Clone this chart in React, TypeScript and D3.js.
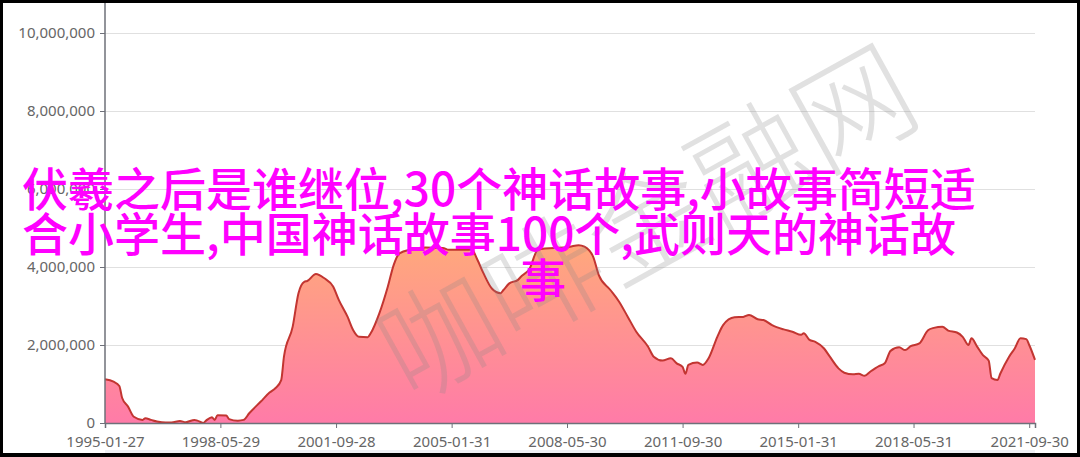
import { useRef, useEffect } from "react";
import * as d3 from "d3";

// monthly samples (value in units)
const months = [
  "1995-01", "1995-04", "1995-06", "1995-07", "1995-09", "1995-11", "1996-02", "1996-03", "1996-05", "1996-07",
  "1996-10", "1996-12", "1997-03", "1997-05", "1997-08", "1997-09", "1997-11", "1997-12", "1998-02", "1998-03",
  "1998-04", "1998-07", "1998-08", "1998-11", "1999-01", "1999-03", "1999-07", "1999-10", "1999-12", "2000-02",
  "2000-03", "2000-06", "2000-08", "2000-10", "2000-11", "2001-02", "2001-05", "2001-08", "2001-10", "2002-01",
  "2002-03", "2002-05", "2002-08", "2002-09", "2002-12", "2003-03", "2003-05", "2003-07", "2003-11", "2004-04",
  "2004-10", "2004-12", "2005-05", "2005-08", "2005-10", "2005-12", "2006-03", "2006-06", "2006-07", "2006-09",
  "2006-12", "2007-01", "2007-04", "2007-07", "2008-06", "2008-09", "2008-11", "2009-02", "2009-04", "2009-08",
  "2009-11", "2010-02", "2010-05", "2010-09", "2010-11", "2011-02", "2011-05", "2011-07", "2011-09", "2011-10",
  "2011-11", "2012-02", "2012-04", "2012-06", "2012-09", "2012-11", "2013-03", "2013-06", "2013-08", "2013-11",
  "2014-01", "2014-04", "2014-08", "2014-11", "2015-02", "2015-03", "2015-05", "2015-07", "2015-10", "2015-12",
  "2016-03", "2016-05", "2016-08", "2016-10", "2016-12", "2017-02", "2017-05", "2017-07", "2017-09", "2017-12",
  "2018-02", "2018-04", "2018-07", "2018-10", "2018-12", "2019-03", "2019-05", "2019-08", "2019-10", "2019-12",
  "2020-01", "2020-03", "2020-05", "2020-07", "2020-08", "2020-10", "2020-11", "2021-02", "2021-04", "2021-06",
  "2021-08", "2021-09", "2021-11",
];

const values = [
  1120000, 1060000, 950000, 640000, 420000, 160000, 80000, 120000, 80000, 40000,
  10000, 10000, 50000, 20000, 80000, 60000, 0, 60000, 150000, 80000,
  200000, 190000, 100000, 60000, 80000, 250000, 550000, 780000, 890000, 1100000,
  1700000, 2470000, 3330000, 3620000, 3640000, 3820000, 3710000, 3500000, 3150000, 2720000,
  2380000, 2210000, 2200000, 2300000, 2810000, 3500000, 4050000, 4350000, 4450000, 4500000,
  4490000, 4440000, 4440000, 4440000, 4180000, 3850000, 3450000, 3330000, 3410000, 3580000,
  3670000, 3750000, 3950000, 4450000, 4520000, 4560000, 4520000, 4260000, 3790000, 3410000,
  3110000, 2720000, 2340000, 1960000, 1700000, 1600000, 1660000, 1530000, 1440000, 1260000,
  1490000, 1550000, 1490000, 1660000, 2210000, 2510000, 2710000, 2720000, 2770000, 2660000,
  2640000, 2510000, 2400000, 2340000, 2260000, 2300000, 2130000, 2080000, 1910000, 1700000,
  1400000, 1290000, 1250000, 1260000, 1210000, 1320000, 1460000, 1530000, 1850000, 1940000,
  1870000, 1970000, 2040000, 2380000, 2440000, 2470000, 2370000, 2320000, 2210000, 2000000,
  2170000, 1960000, 1740000, 1600000, 1150000, 1100000, 1270000, 1700000, 1910000, 2170000,
  2150000, 2000000, 1620000,
];

const yTicks = [0, 2000000, 4000000, 6000000, 8000000, 10000000];
const xTickLabels = [
  "1995-01-27", "1998-05-29", "2001-09-28", "2005-01-31", "2008-05-30",
  "2011-09-30", "2015-01-31", "2018-05-31", "2021-09-30",
];

const titleLines = [
  "伏羲之后是谁继位,30个神话故事,小故事简短适",
  "合小学生,中国神话故事100个,武则天的神话故",
  "事",
];
const watermark = "咖啡金融网";

export default function App() {
  const ref = useRef<SVGSVGElement>(null);

  useEffect(() => {
    if (!ref.current) return;
    const svg = d3.select(ref.current);
    svg.selectAll("*").remove();

    const W = 1080, H = 457;
    const left = 105, right = 1035, top = 33, bottom = 423;
    const parseM = d3.timeParse("%Y-%m")!;
    const parseD = d3.timeParse("%Y-%m-%d")!;
    const data = months.map((m, i) => ({ date: parseM(m) as Date, value: values[i] }));

    const x = d3.scaleTime().domain([data[0].date, data[data.length - 1].date]).range([left, right]);
    const y = d3.scaleLinear().domain([0, 10000000]).range([bottom, top]);

    svg.attr("width", W).attr("height", H).style("display", "block").style("background", "#fff");

    const defs = svg.append("defs");
    const grad = defs.append("linearGradient").attr("id", "areaGrad")
      .attr("x1", 0).attr("y1", 0).attr("x2", 0).attr("y2", 1);
    grad.append("stop").attr("offset", "0%").attr("stop-color", "#ffa87c");
    grad.append("stop").attr("offset", "100%").attr("stop-color", "#ff7ba8");

    // grid
    svg.append("g").selectAll("line").data(yTicks.filter(d => d > 0)).join("line")
      .attr("x1", left).attr("x2", right).attr("y1", d => y(d)).attr("y2", d => y(d))
      .attr("stroke", "#e0e0e0").attr("stroke-width", 1).attr("shape-rendering", "crispEdges");

    const area = d3.area<{ date: Date; value: number }>()
      .x(d => x(d.date)).y0(bottom).y1(d => y(d.value)).curve(d3.curveMonotoneX);
    const line = d3.line<{ date: Date; value: number }>()
      .x(d => x(d.date)).y(d => y(d.value)).curve(d3.curveMonotoneX);

    svg.append("path").datum(data).attr("d", area).attr("fill", "url(#areaGrad)");
    svg.append("path").datum(data).attr("d", line)
      .attr("fill", "none").attr("stroke", "#c23531").attr("stroke-width", 2).attr("stroke-linejoin", "round");

    // y axis
    const yAxis = svg.append("g").attr("transform", `translate(${left},0)`)
      .call(d3.axisLeft(y).tickValues(yTicks).tickFormat(d => d3.format(",")(d as number)).tickSize(5).tickPadding(5));
    yAxis.select(".domain").remove();
    yAxis.selectAll(".tick line").attr("stroke", "#6e7079");
    yAxis.selectAll("text").attr("fill", "#666").attr("font-size", "15px").attr("font-family", "'Noto Sans', sans-serif");
    svg.append("line").attr("x1", left).attr("x2", left).attr("y1", 0).attr("y2", bottom)
      .attr("stroke", "#6e7079").attr("stroke-width", 1.5);

    // x axis
    const tickDates = xTickLabels.map(s => d3.timeMonth.floor(parseD(s) as Date));
    const xAxis = svg.append("g").attr("transform", `translate(0,${bottom})`)
      .call(d3.axisBottom(x).tickValues(tickDates).tickFormat((_, i) => xTickLabels[i]).tickSize(5).tickPadding(8));
    xAxis.select(".domain").attr("stroke", "#6e7079").attr("stroke-width", 1.5);
    xAxis.selectAll(".tick line").attr("stroke", "#6e7079");
    xAxis.selectAll("text").attr("fill", "#666").attr("font-size", "15px").attr("font-family", "'Noto Sans', sans-serif");

    // slider edge at the bottom
    svg.append("rect").attr("x", left).attr("y", 450).attr("width", right - left).attr("height", 3).attr("fill", "#eef0f4");

    // watermark
    svg.append("text").attr("transform", "translate(643,215) rotate(-29)")
      .attr("text-anchor", "middle").attr("dominant-baseline", "central")
      .attr("font-family", "'Noto Sans CJK SC', sans-serif").attr("font-weight", 300).attr("font-size", 118)
      .attr("fill", "#888").attr("fill-opacity", 0.25).text(watermark);

    // overlay title
    const tl = svg.append("g").attr("font-family", "'Noto Sans CJK SC', sans-serif")
      .attr("font-size", 46).attr("font-weight", 500).attr("fill", "#ff00ff");
    tl.append("text").attr("x", 22).attr("y", 206).text(titleLines[0]);
    tl.append("text").attr("x", 22).attr("y", 251).text(titleLines[1]);
    tl.append("text").attr("x", 520).attr("y", 297).text(titleLines[2]);

    // frame
    svg.append("rect").attr("x", 0).attr("y", 0).attr("width", W).attr("height", 3).attr("fill", "#000");
    svg.append("rect").attr("x", 0).attr("y", 0).attr("width", 3).attr("height", H).attr("fill", "#000");
    svg.append("rect").attr("x", W - 3).attr("y", 0).attr("width", 3).attr("height", H).attr("fill", "#000");
    svg.append("rect").attr("x", 0).attr("y", H - 4).attr("width", W).attr("height", 4).attr("fill", "#000");
  }, []);

  return (
    <div>
      <style>{`body{margin:0}`}</style>
      <svg ref={ref} />
    </div>
  );
}
